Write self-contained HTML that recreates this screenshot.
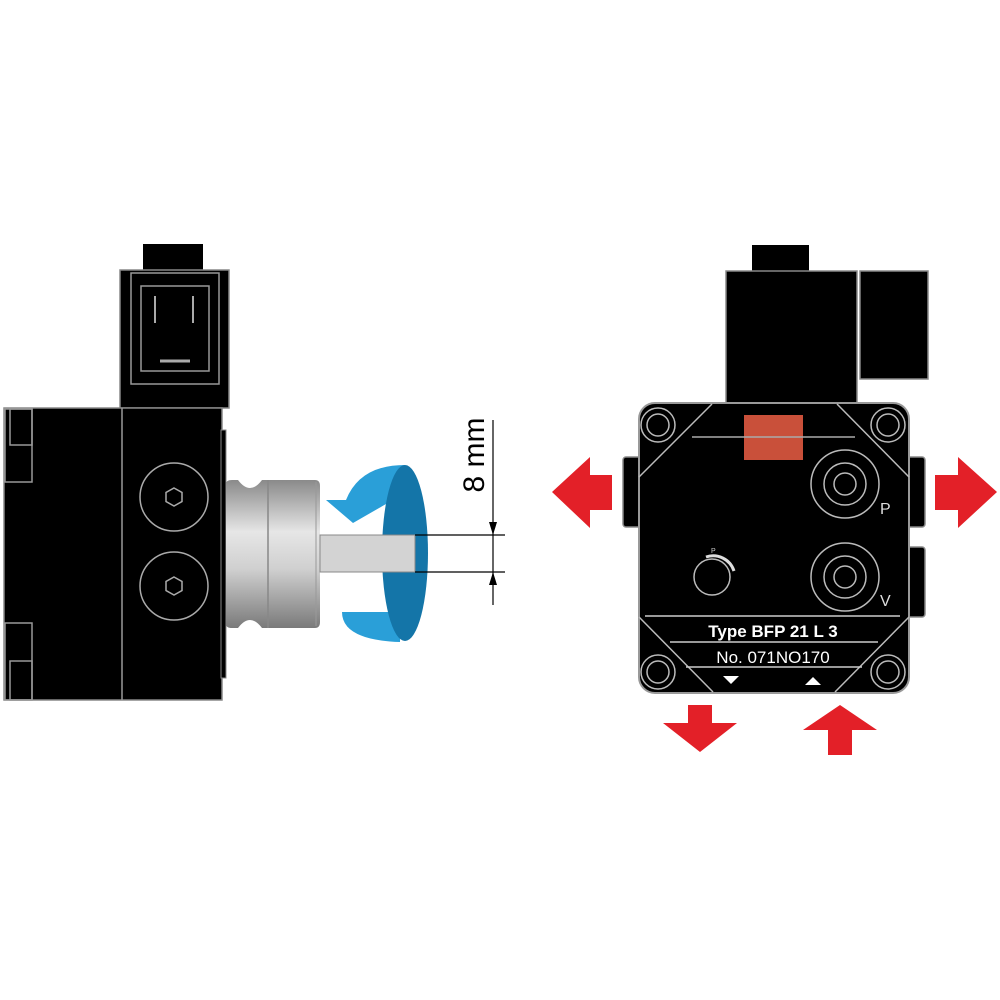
<!DOCTYPE html>
<html><head><meta charset="utf-8"><style>
html,body{margin:0;padding:0;background:#fff;}
svg{display:block;}
</style></head><body>
<svg width="1000" height="1000" viewBox="0 0 1000 1000" xmlns="http://www.w3.org/2000/svg">
<defs>
<linearGradient id="cyl" x1="0" y1="0" x2="0" y2="1">
<stop offset="0" stop-color="#8a8a8a"/><stop offset="0.35" stop-color="#e6e6e6"/><stop offset="0.6" stop-color="#d0d0d0"/><stop offset="1" stop-color="#7a7a7a"/>
</linearGradient>
</defs>
<rect width="1000" height="1000" fill="#fff"/>
<!-- LEFT PUMP -->
<rect x="143" y="244" width="60" height="28" fill="#000"/>
<rect x="120" y="270" width="109" height="138" fill="#000" stroke="#888" stroke-width="1.5"/>
<rect x="131" y="273" width="88" height="111" fill="none" stroke="#999" stroke-width="1.5"/>
<rect x="141" y="286" width="68" height="85" fill="none" stroke="#999" stroke-width="1.5"/>
<line x1="155" y1="296" x2="155" y2="323" stroke="#aaa" stroke-width="2"/>
<line x1="193" y1="296" x2="193" y2="323" stroke="#aaa" stroke-width="2"/>
<line x1="160" y1="361" x2="190" y2="361" stroke="#aaa" stroke-width="3"/>
<rect x="4" y="408" width="218" height="292" fill="#000" stroke="#888" stroke-width="1.5"/>
<line x1="122" y1="408" x2="122" y2="700" stroke="#999" stroke-width="1.5"/>
<rect x="5" y="409" width="27" height="73" fill="none" stroke="#999" stroke-width="1.5"/>
<rect x="10" y="409" width="22" height="36" fill="none" stroke="#999" stroke-width="1.5"/>
<rect x="5" y="623" width="27" height="77" fill="none" stroke="#999" stroke-width="1.5"/>
<rect x="10" y="661" width="22" height="39" fill="none" stroke="#999" stroke-width="1.5"/>
<rect x="221" y="430" width="5" height="248" fill="#000" stroke="#888"/>
<circle cx="174" cy="497" r="34" fill="none" stroke="#aaa" stroke-width="1.5"/>
<polygon points="174,488 182,492.5 182,501.5 174,506 166,501.5 166,492.5" fill="none" stroke="#aaa" stroke-width="1.5"/>
<circle cx="174" cy="586" r="34" fill="none" stroke="#aaa" stroke-width="1.5"/>
<polygon points="174,577 182,581.5 182,590.5 174,595 166,590.5 166,581.5" fill="none" stroke="#aaa" stroke-width="1.5"/>
<!-- coupling -->
<path d="M226,484 Q226,480 232,480 L238,480 Q250,496 262,480 L315,480 Q320,480 320,486 L320,622 Q320,628 315,628 L262,628 Q250,612 238,628 L232,628 Q226,628 226,624 Z" fill="url(#cyl)"/>
<line x1="268" y1="480" x2="268" y2="628" stroke="#888" stroke-width="1.5"/>
<line x1="316" y1="482" x2="316" y2="626" stroke="#999" stroke-width="1"/>
<!-- blue rotation -->
<path d="M405,465 Q360,465 346,500 L326,500 L353,523 L393,500 L402,500 L402,470 Z" fill="#2a9fd8"/>
<path d="M342,612 Q342,640 400,642 L400,612 Z" fill="#2a9fd8"/>
<ellipse cx="405" cy="553" rx="23" ry="88" fill="#1475a8"/>
<!-- shaft -->
<rect x="320" y="535" width="95" height="37" fill="#d3d3d3" stroke="#888" stroke-width="1"/>
<!-- dimension -->
<line x1="415" y1="535" x2="505" y2="535" stroke="#000" stroke-width="1.2"/>
<line x1="415" y1="572" x2="505" y2="572" stroke="#000" stroke-width="1.2"/>
<line x1="493" y1="420" x2="493" y2="605" stroke="#000" stroke-width="1.2"/>
<polygon points="493,535 489,522 497,522" fill="#000"/>
<polygon points="493,572 489,585 497,585" fill="#000"/>
<text x="0" y="0" transform="translate(484,455) rotate(-90)" text-anchor="middle" font-family="Liberation Sans, sans-serif" font-size="30" fill="#000">8 mm</text>
<!-- RIGHT PUMP -->
<rect x="752" y="245" width="57" height="27" fill="#000"/>
<rect x="726" y="271" width="131" height="134" fill="#000" stroke="#888" stroke-width="1.5"/>
<rect x="860" y="271" width="68" height="108" fill="#000" stroke="#888" stroke-width="1.5"/>
<rect x="623" y="457" width="18" height="70" rx="3" fill="#000" stroke="#888" stroke-width="1.5"/>
<rect x="907" y="457" width="18" height="70" rx="3" fill="#000" stroke="#888" stroke-width="1.5"/>
<rect x="907" y="547" width="18" height="70" rx="3" fill="#000" stroke="#888" stroke-width="1.5"/>
<rect x="639" y="403" width="270" height="290" rx="16" fill="#000" stroke="#999" stroke-width="2"/>
<g stroke="#bbb" stroke-width="1.5" fill="none">
<line x1="639" y1="477" x2="712" y2="404"/>
<line x1="837" y1="404" x2="909" y2="477"/>
<line x1="639" y1="617" x2="713" y2="692"/>
<line x1="909" y1="617" x2="835" y2="692"/>
<circle cx="658" cy="425" r="17"/><circle cx="658" cy="425" r="11"/>
<circle cx="888" cy="425" r="17"/><circle cx="888" cy="425" r="11"/>
<circle cx="658" cy="672" r="17"/><circle cx="658" cy="672" r="11"/>
<circle cx="888" cy="672" r="17"/><circle cx="888" cy="672" r="11"/>
<circle cx="845" cy="484" r="34"/><circle cx="845" cy="484" r="21"/><circle cx="845" cy="484" r="11"/>
<circle cx="845" cy="577" r="34"/><circle cx="845" cy="577" r="21"/><circle cx="845" cy="577" r="11"/>
<circle cx="712" cy="577" r="18"/>
</g>
<path d="M706,557 A22,22 0 0 1 734,571" stroke="#ddd" stroke-width="3" fill="none"/>
<text x="711" y="553" font-family="Liberation Sans, sans-serif" font-size="7" fill="#ccc">P</text>
<rect x="744" y="415" width="59" height="45" fill="#c9503a"/>
<line x1="692" y1="437" x2="855" y2="437" stroke="#aaa" stroke-width="1.5"/>
<text x="880" y="514" font-family="Liberation Sans, sans-serif" font-size="16" fill="#ddd">P</text>
<text x="880" y="606" font-family="Liberation Sans, sans-serif" font-size="16" fill="#ddd">V</text>
<line x1="645" y1="616" x2="900" y2="616" stroke="#ccc" stroke-width="1.5"/>
<text x="773" y="637" text-anchor="middle" font-family="Liberation Sans, sans-serif" font-size="17" font-weight="bold" fill="#fff">Type BFP 21 L 3</text>
<line x1="670" y1="642" x2="878" y2="642" stroke="#ccc" stroke-width="1.5"/>
<text x="773" y="663" text-anchor="middle" font-family="Liberation Sans, sans-serif" font-size="17" fill="#fff">No. 071NO170</text>
<line x1="686" y1="667" x2="862" y2="667" stroke="#ccc" stroke-width="1.5"/>
<polygon points="723,676 739,676 731,684" fill="#fff"/>
<polygon points="805,685 821,685 813,677" fill="#fff"/>
<!-- red arrows -->
<g fill="#e32028">
<polygon points="552,492 590,457 590,475 612,475 612,510 590,510 590,528"/>
<polygon points="997,492 958,457 958,475 935,475 935,510 958,510 958,528"/>
<polygon points="688,705 712,705 712,723 737,723 700,752 663,723 688,723"/>
<polygon points="828,755 852,755 852,730 877,730 840,705 803,730 828,730"/>
</g>
</svg>
</body></html>
